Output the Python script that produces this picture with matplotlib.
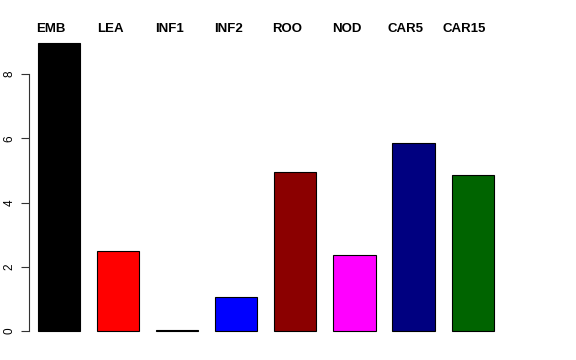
import matplotlib
matplotlib.use('Agg')
import matplotlib.pyplot as plt

# values
labels = ['EMB', 'LEA', 'INF1', 'INF2', 'ROO', 'NOD', 'CAR5', 'CAR15']
values = [8.97, 2.49, 0.03, 1.06, 4.95, 2.37, 5.86, 4.86]
colors = ['black', 'red', 'green', 'blue', 'darkred', 'magenta', 'navy', 'darkgreen']
yticks = [0, 2, 4, 6, 8]

plt.rcParams['font.family'] = ['Liberation Sans', 'DejaVu Sans']

fig = plt.figure(figsize=(5.76, 3.6), dpi=100)
ax = fig.add_axes([0, 0, 1, 1])

# R style barplot: width 1, space 0.4
xs = [0.9 + 1.4 * i for i in range(len(values))]
ax.bar(xs, values, width=1.0, color=colors, edgecolor='black', linewidth=0.8)

# pixel mapping
ax.set_xlim(-0.5, 13.15)
ax.set_ylim(-0.903, 10.31)

for x, lab in zip(xs, labels):
    ax.text(x - 0.19, 9.41, lab, ha='center', va='center',
            fontsize=9.5, fontweight='bold', clip_on=False)

for side in ['top', 'right', 'bottom']:
    ax.spines[side].set_visible(False)
ax.spines['left'].set_position(('data', 0.187))
ax.spines['left'].set_bounds(0, 8)
ax.spines['left'].set_color('#333333')
ax.spines['left'].set_linewidth(0.8)

ax.set_xticks([])
ax.set_yticks(yticks)
ax.set_yticklabels([str(t) for t in yticks], rotation=90, va='center', fontsize=8.5)
ax.tick_params(axis='y', length=5.5, width=0.8, color='#333333', pad=4)

fig.savefig('out.png', dpi=100)
